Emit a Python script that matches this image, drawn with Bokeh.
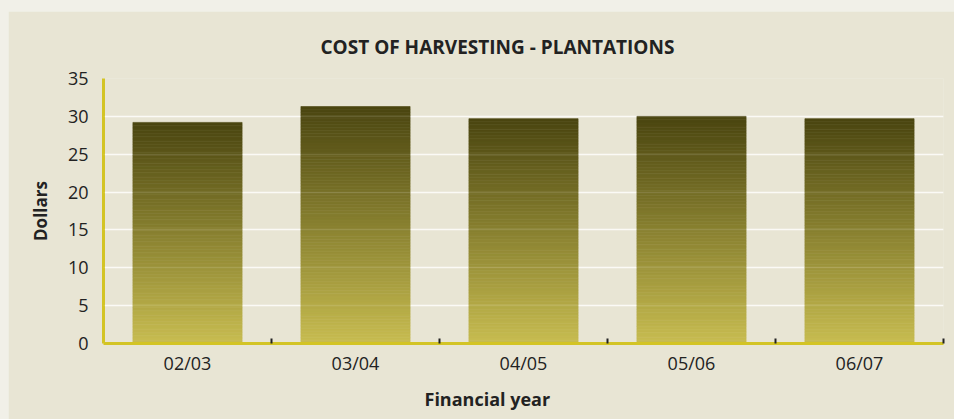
from bokeh.plotting import figure
from bokeh.models import (Range1d, FixedTicker, Grid, ColumnDataSource, Title)
from bokeh.layouts import column
from bokeh.embed import file_html
from bokeh.resources import INLINE

# ---- data ----
years = ["02/03", "03/04", "04/05", "05/06", "06/07"]
cost = [29.2, 31.3, 29.7, 30.0, 29.7]
y_ticks = [0, 5, 10, 15, 20, 25, 30, 35]
title_text = "COST OF HARVESTING - PLANTATIONS"
x_title = "Financial year"
y_title = "Dollars"

# ---- style ----
FONT = "'Open Sans', sans-serif"
OUTER = "#f1f0e8"
PANEL = "#e8e5d4"
AXIS = "#d3c425"
TOP_COL = (0x4a, 0x45, 0x10)
BOT_COL = (0xc8, 0xbd, 0x51)
N_SLICES = 80
BAR_W = 0.65

def lerp(a, b, t):
    return "#%02x%02x%02x" % tuple(int(round(a[i] + (b[i] - a[i]) * t)) for i in range(3))

n = len(years)
p = figure(output_backend="svg", toolbar_location=None,
           x_range=Range1d(0, n), y_range=Range1d(0, 35),
           min_border_left=95, min_border_right=11, min_border_top=67, min_border_bottom=76)
p.frame_width = 840
p.frame_height = 265
p.background_fill_color = PANEL
p.border_fill_color = PANEL
p.outline_line_color = None

# gradient bars built from the data values as stacked slices
lefts, rights, bottoms, tops, colors = [], [], [], [], []
for i, v in enumerate(cost):
    c = i + 0.5
    for k in range(N_SLICES):
        lefts.append(c - BAR_W / 2)
        rights.append(c + BAR_W / 2)
        bottoms.append(v * k / N_SLICES)
        tops.append(v * (k + 1) / N_SLICES)
        colors.append(lerp(BOT_COL, TOP_COL, (k + 0.5) / N_SLICES))
src = ColumnDataSource(dict(left=lefts, right=rights, bottom=bottoms, top=tops, color=colors))
p.quad(left="left", right="right", bottom="bottom", top="top", source=src,
       fill_color="color", line_color="color", line_width=0.6)

# axes
centers = [i + 0.5 for i in range(n)]
bounds = [i + 1 for i in range(n)]
p.xaxis.ticker = FixedTicker(ticks=centers, minor_ticks=bounds)
p.xaxis.major_label_overrides = {c: lab for c, lab in zip(centers, years)}
p.xaxis.major_tick_line_color = None
p.xaxis.minor_tick_in = 5
p.xaxis.minor_tick_out = 0
p.xaxis.minor_tick_line_color = "#222222"
p.xaxis.minor_tick_line_width = 2
p.xaxis.axis_line_color = AXIS
p.xaxis.axis_line_width = 3
p.xaxis.major_label_standoff = 1
p.xaxis.major_label_text_font = FONT
p.xaxis.major_label_text_font_size = "18px"
p.xaxis.major_label_text_color = "#222222"

p.yaxis.ticker = FixedTicker(ticks=y_ticks)
p.yaxis.major_tick_line_color = None
p.yaxis.minor_tick_line_color = None
p.yaxis.axis_line_color = AXIS
p.yaxis.axis_line_width = 3
p.yaxis.major_label_standoff = 9
p.yaxis.major_label_text_font = FONT
p.yaxis.major_label_text_font_size = "18px"
p.yaxis.major_label_text_color = "#222222"
p.yaxis.axis_label = y_title
p.yaxis.axis_label_text_font = FONT
p.yaxis.axis_label_text_font_size = "17px"
p.yaxis.axis_label_text_font_style = "bold"
p.yaxis.axis_label_text_color = "#222222"
p.yaxis.axis_label_standoff = 13

p.xgrid.grid_line_color = None
p.ygrid.ticker = FixedTicker(ticks=y_ticks)
p.ygrid.grid_line_color = "#fbfaf5"
p.ygrid.grid_line_width = 1.5

# faint grid seen through bars
over = Grid(dimension=1, ticker=FixedTicker(ticks=y_ticks[1:]), grid_line_color="white",
            grid_line_alpha=0.12, grid_line_width=1.5, level="annotation")
p.add_layout(over)

# titles
p.title.text = title_text
p.title.align = "left"
p.title.offset = 217
p.title.standoff = 38
p.title.text_font = FONT
p.title.text_font_size = "19px"
p.title.text_font_style = "bold"
p.title.text_color = "#222222"

xt = Title(text=x_title, align="left", offset=321, standoff=14, text_font=FONT,
           text_font_size="18px", text_font_style="bold", text_color="#222222")
p.add_layout(xt, "below")

layout = column(p, styles={"background-color": OUTER, "padding-top": "11px",
                           "padding-left": "8px"})
open("out.html", "w").write(file_html(layout, INLINE))
